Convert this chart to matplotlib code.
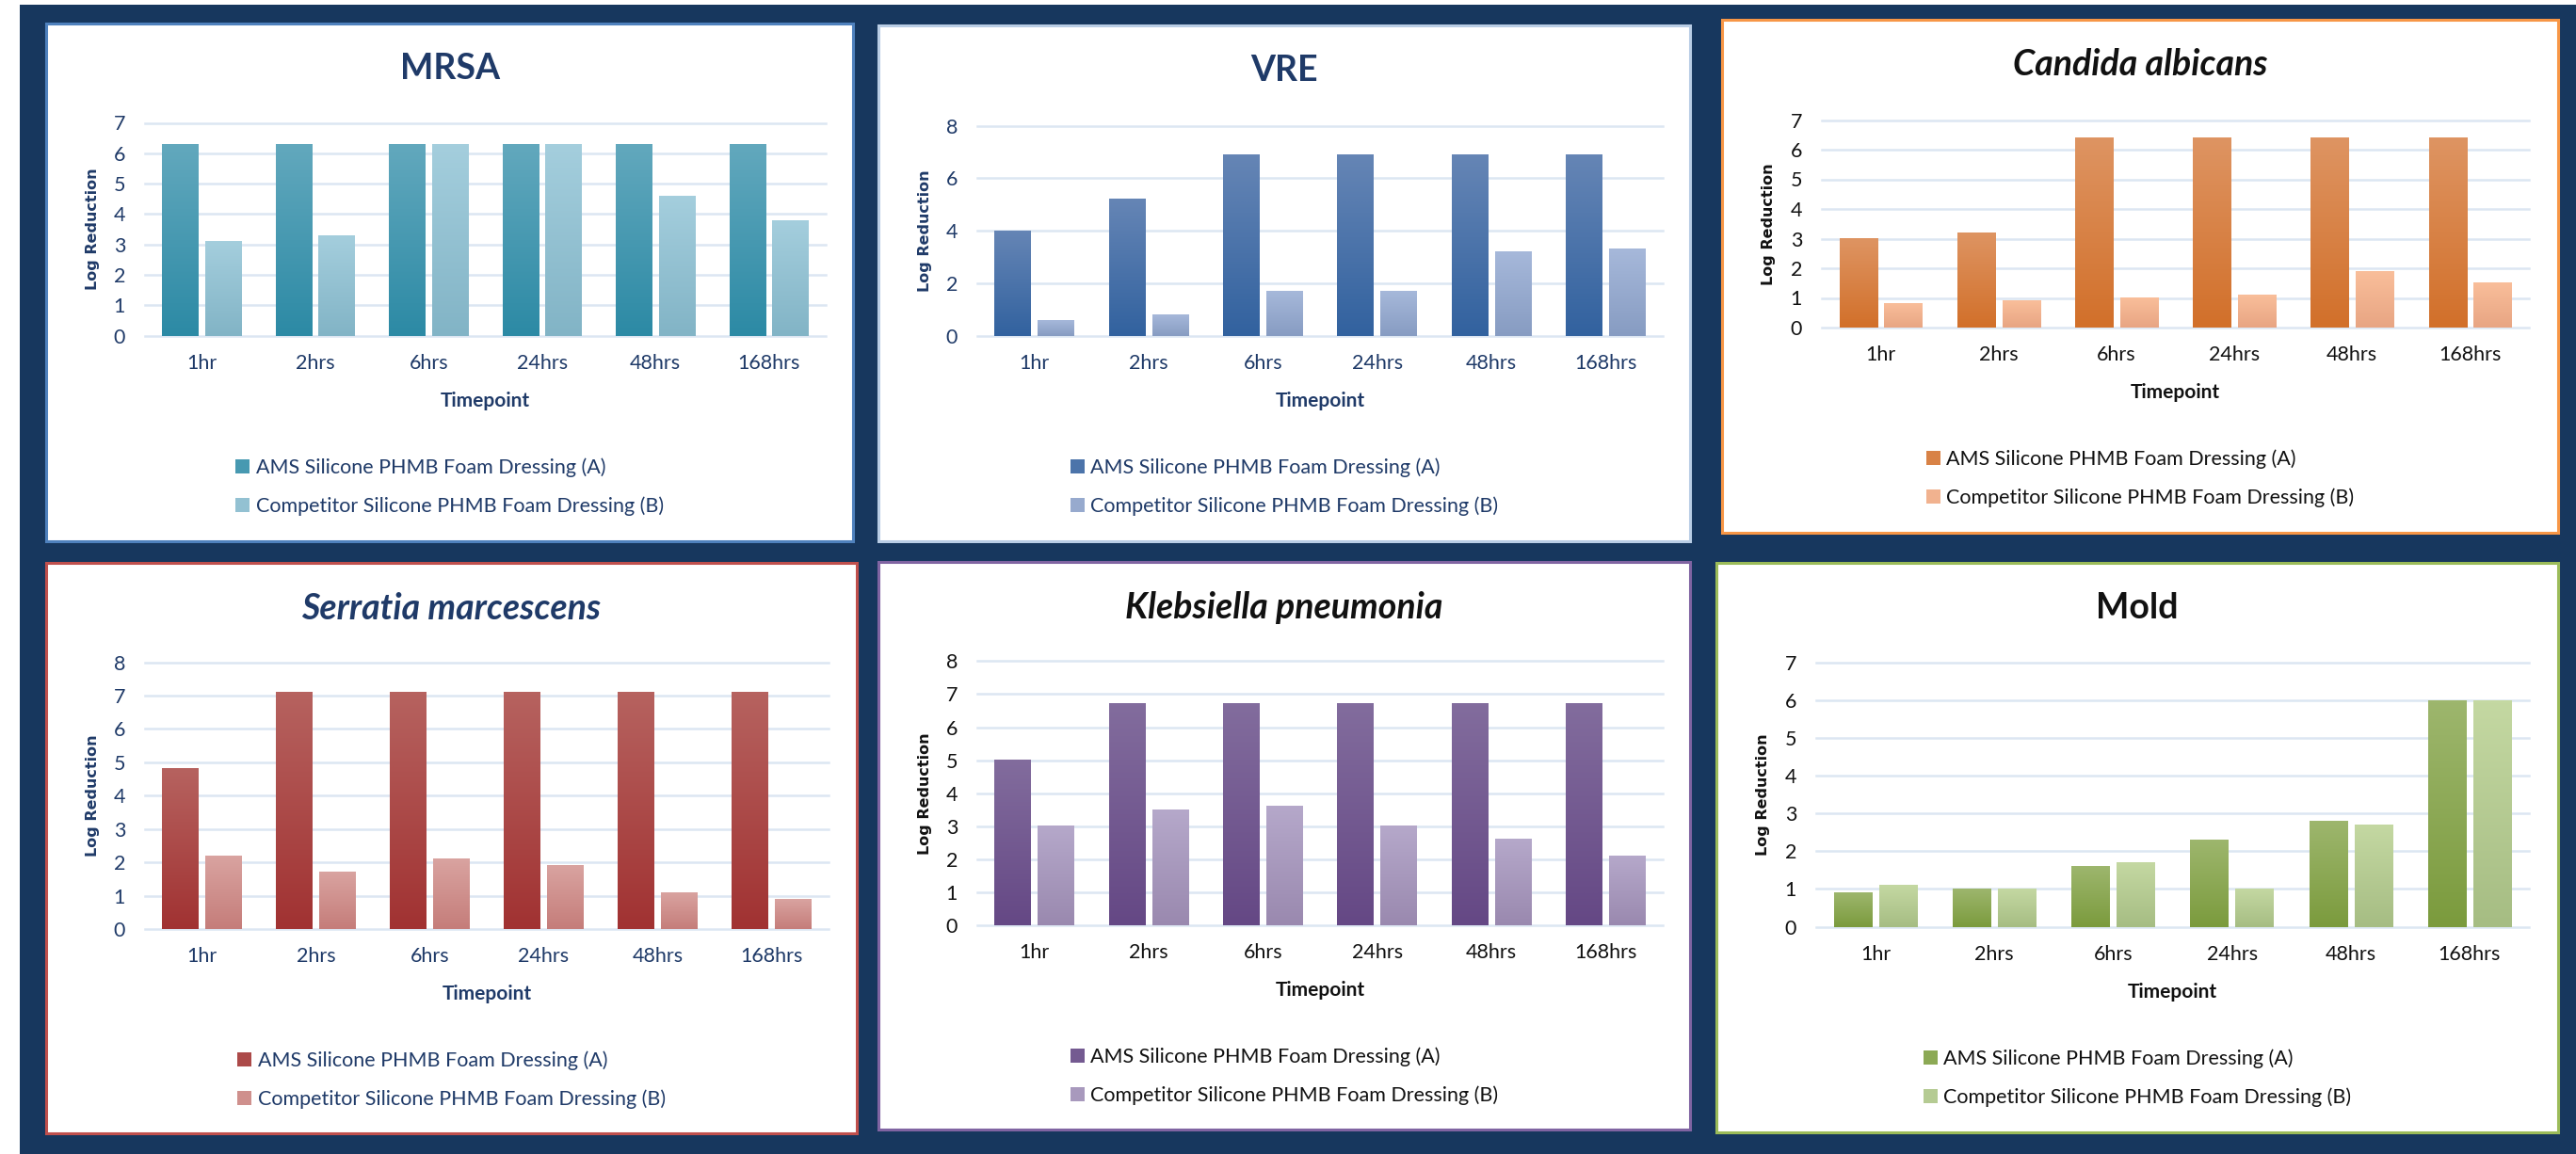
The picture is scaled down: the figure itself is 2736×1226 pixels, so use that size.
import numpy as np
import matplotlib.pyplot as plt
from matplotlib.colors import LinearSegmentedColormap
from matplotlib.patches import Rectangle

plt.rcParams['font.family'] = ['Lato', 'DejaVu Sans']

timepoints = ['1hr', '2hrs', '6hrs', '24hrs', '48hrs', '168hrs']
series_a = 'AMS Silicone PHMB Foam Dressing (A)'
series_b = 'Competitor Silicone PHMB Foam Dressing (B)'

mrsa_a = [6.3, 6.3, 6.3, 6.3, 6.3, 6.3]
mrsa_b = [3.1, 3.3, 6.3, 6.3, 4.6, 3.8]
vre_a = [4.0, 5.2, 6.9, 6.9, 6.9, 6.9]
vre_b = [0.6, 0.8, 1.7, 1.7, 3.2, 3.3]
candida_a = [3.0, 3.2, 6.4, 6.4, 6.4, 6.4]
candida_b = [0.8, 0.9, 1.0, 1.1, 1.9, 1.5]
serratia_a = [4.8, 7.1, 7.1, 7.1, 7.1, 7.1]
serratia_b = [2.2, 1.7, 2.1, 1.9, 1.1, 0.9]
kleb_a = [5.0, 6.7, 6.7, 6.7, 6.7, 6.7]
kleb_b = [3.0, 3.5, 3.6, 3.0, 2.6, 2.1]
mold_a = [0.9, 1.0, 1.6, 2.3, 2.8, 6.0]
mold_b = [1.1, 1.0, 1.7, 1.0, 2.7, 6.0]

W, H = 2736, 1226
NAVY = '#17375E'
GRID = '#DCE6F2'
BLUE_TXT = '#1F3A68'
BLACK_TXT = '#111111'

# panel box, axes box (pixels, top-left origin), y max, y step, title, italic, text colour,
# border colour, (A top, A bottom), (B top, B bottom)
panels = [
    (mrsa_a, mrsa_b, (49, 25, 906, 575), (154, 130.5, 877, 356.7), 7, 1, 'MRSA', False,
     BLUE_TXT, '#4F81BD', ('#62A8BD', '#2C8AA5'), ('#A4CEDD', '#82B4C6')),
    (vre_a, vre_b, (933, 27, 1795, 575), (1038, 133.6, 1766, 356.7), 8, 2, 'VRE', False,
     BLUE_TXT, '#B9CDE5', ('#6585B5', '#32629F'), ('#A6B8DA', '#879CC2')),
    (candida_a, candida_b, (1829, 21, 2717, 566), (1935, 127.5, 2686, 348), 7, 1,
     'Candida albicans', True, BLACK_TXT, '#F79646', ('#DE9462', '#D2702A'), ('#F9BE9A', '#E8A583')),
    (serratia_a, serratia_b, (49, 598, 910, 1204), (154, 703.6, 880, 987), 8, 1,
     'Serratia marcescens', True, BLUE_TXT, '#C0504D', ('#B6625F', '#A13232'), ('#D9A3A0', '#C57D7A')),
    (kleb_a, kleb_b, (933, 597, 1795, 1200), (1038, 702.4, 1766, 983), 8, 1,
     'Klebsiella pneumonia', True, BLACK_TXT, '#8064A2', ('#826C9D', '#654885'), ('#B5A8CA', '#9A89AF')),
    (mold_a, mold_b, (1823, 598, 2717, 1203), (1929, 703.6, 2686, 984.6), 7, 1,
     'Mold', False, BLACK_TXT, '#9BBB59', ('#9DB66D', '#7B9B3D'), ('#C4D8A2', '#A6BD83')),
]


def fx(x):
    return x / W


def fy(y):
    return 1 - y / H


def gradient_bars(ax, x, vals, width, top, bottom, label):
    cmap = LinearSegmentedColormap.from_list('g', [bottom, top])
    bars = ax.bar(x, vals, width, color=cmap(0.5), label=label, zorder=2)
    grad = np.linspace(0, 1, 64).reshape(-1, 1)
    for b in bars:
        x0 = b.get_x()
        ax.imshow(grad, extent=[x0, x0 + b.get_width(), 0, b.get_height()], origin='lower',
                  cmap=cmap, aspect='auto', zorder=2.1, interpolation='bilinear')
    return bars


fig = plt.figure(figsize=(W / 100, H / 100), dpi=100)
fig.patches.append(Rectangle((fx(21), 0), 1 - fx(21), fy(5), transform=fig.transFigure,
                             facecolor=NAVY, edgecolor='none', zorder=-2))

x = np.arange(len(timepoints))
for (va, vb, pbox, abox, ymax, step, title, italic, tcol, bcol, ca, cb) in panels:
    px0, py0, px1, py1 = pbox
    fig.patches.append(Rectangle((fx(px0), fy(py1)), fx(px1 - px0), (py1 - py0) / H,
                                 transform=fig.transFigure, facecolor='white',
                                 edgecolor=bcol, linewidth=2.2, zorder=-1))
    ax0, ay0, ax1, ay1 = abox
    ax = fig.add_axes([fx(ax0), fy(ay1), fx(ax1 - ax0), (ay1 - ay0) / H])
    ax.set_zorder(2)
    ax.set_facecolor('none')
    ba = gradient_bars(ax, x - 0.19, va, 0.32, ca[0], ca[1], series_a)
    bb = gradient_bars(ax, x + 0.19, vb, 0.32, cb[0], cb[1], series_b)
    ax.set_xlim(-0.5, 5.5)
    ax.set_ylim(0, ymax)
    ax.set_yticks(np.arange(0, ymax + step, step))
    ax.set_xticks(x)
    ax.set_xticklabels(timepoints)
    ax.yaxis.grid(True, color=GRID, linewidth=1.8)
    for gl in ax.get_ygridlines():
        gl.set_clip_on(False)
    ax.set_axisbelow(True)
    for s in ax.spines.values():
        s.set_visible(False)
    ax.tick_params(length=0, labelsize=15.5, colors=tcol)
    ax.tick_params(axis='y', pad=15)
    ax.tick_params(axis='x', pad=14)

    cx = (px0 + px1) / 2
    fig.text(fx(cx), fy(py0 + 48), title, ha='center', va='center', fontsize=27,
             fontweight='bold', style='italic' if italic else 'normal', color=tcol)
    fig.text(fx(ax0 - 56), fy((ay0 + ay1) / 2), 'Log Reduction', rotation=90, ha='center',
             va='center', fontsize=11.5, fontweight='bold', color=tcol, family='DejaVu Sans')
    fig.text(fx((ax0 + ax1) / 2), fy(ay1 + 69), 'Timepoint', ha='center', va='center',
             fontsize=15, fontweight='bold', color=tcol)
    leg = ax.legend(handles=[ba, bb], loc='center', bbox_to_anchor=(fx(cx), fy(ay1 + 160.6)),
                    bbox_transform=fig.transFigure, frameon=False, fontsize=15.5,
                    handlelength=0.7, handleheight=0.7, handletextpad=0.3, labelspacing=0.95)
    for t in leg.get_texts():
        t.set_color(tcol)

fig.savefig('out.png', dpi=100)
